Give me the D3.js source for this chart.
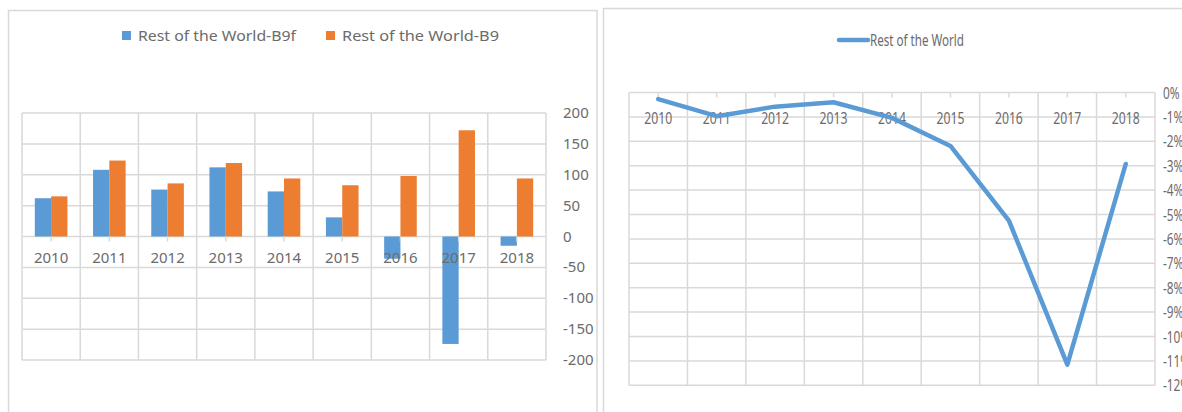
<!DOCTYPE html>
<html><head><meta charset="utf-8">
<script src="https://cdn.jsdelivr.net/npm/d3@7"></script>
<style>html,body{margin:0;padding:0;background:#fff;overflow:hidden}svg{display:block}</style>
</head><body>
<svg id="c" width="1182" height="412"></svg>
<script>
const years = ["2010","2011","2012","2013","2014","2015","2016","2017","2018"];
const seriesB9f = [62, 108, 76, 112, 73, 31, -36, -174, -15];
const seriesB9 = [65, 123, 86, 119, 94, 83, 98, 172, 94];
const seriesRow = [-0.27, -0.97, -0.58, -0.40, -1.04, -2.19, -5.25, -11.15, -2.93];
const leftTicks = [200,150,100,50,0,-50,-100,-150,-200];
const rightTicks = [0,-1,-2,-3,-4,-5,-6,-7,-8,-9,-10,-11,-12];
const legendLeft = ["Rest of the World-B9f","Rest of the World-B9"];
const legendRight = "Rest of the World";

const BLUE="#5b9bd5", ORANGE="#ed7d31", GRID="#d9d9d9", TXT="#6b6b6b";
const svg = d3.select("#c");
const FONT = "'Noto Sans', 'Open Sans', sans-serif";

// chart frames
svg.append("rect").attr("x",8.5).attr("y",10.5).attr("width",588.5).attr("height",420)
  .attr("fill","none").attr("stroke",GRID).attr("stroke-width",1.5);
svg.append("rect").attr("x",603.5).attr("y",8.5).attr("width",600).attr("height",420)
  .attr("fill","none").attr("stroke",GRID).attr("stroke-width",1.5);

// ---------- LEFT: bar chart ----------
const x1 = d3.scaleBand().domain(years).range([22,546]).paddingInner(0).paddingOuter(0);
const y1 = d3.scaleLinear().domain([-200,200]).range([360,113]);
const gL = svg.append("g");
// horizontal grid
gL.selectAll("line.h").data(leftTicks).join("line")
  .attr("x1",x1.range()[0]).attr("x2",x1.range()[1])
  .attr("y1",d=>y1(d)).attr("y2",d=>y1(d))
  .attr("stroke",GRID).attr("stroke-width",1.5);
// vertical grid at band edges
const edges1 = years.map(d=>x1(d)).concat([x1.range()[1]]);
gL.selectAll("line.v").data(edges1).join("line")
  .attr("x1",d=>d).attr("x2",d=>d).attr("y1",y1(200)).attr("y2",y1(-200))
  .attr("stroke",GRID).attr("stroke-width",1.5);
// bars
const bw = 16.3;
gL.selectAll("rect.b9f").data(seriesB9f).join("rect")
  .attr("x",(d,i)=>x1(years[i])+x1.bandwidth()/2-bw)
  .attr("y",d=>Math.min(y1(d),y1(0))).attr("width",bw)
  .attr("height",d=>Math.abs(y1(d)-y1(0))).attr("fill",BLUE);
gL.selectAll("rect.b9").data(seriesB9).join("rect")
  .attr("x",(d,i)=>x1(years[i])+x1.bandwidth()/2)
  .attr("y",d=>Math.min(y1(d),y1(0))).attr("width",bw)
  .attr("height",d=>Math.abs(y1(d)-y1(0))).attr("fill",ORANGE);
// ticks at band centres
gL.selectAll("line.t").data(years).join("line")
  .attr("x1",d=>x1(d)+x1.bandwidth()/2).attr("x2",d=>x1(d)+x1.bandwidth()/2)
  .attr("y1",y1(0)).attr("y2",y1(0)+5).attr("stroke",GRID).attr("stroke-width",1.5);
// category labels
gL.selectAll("text.cat").data(years).join("text")
  .attr("x",d=>x1(d)+x1.bandwidth()/2).attr("y",y1(0)+26)
  .attr("text-anchor","middle").attr("font-family",FONT).attr("font-size",15)
  .attr("fill",TXT).text(d=>d);
// value axis labels
gL.selectAll("text.val").data(leftTicks).join("text")
  .attr("x",563).attr("y",d=>y1(d)+5)
  .attr("font-family",FONT).attr("font-size",15).attr("fill",TXT).text(d=>d);
// legend
const legL = svg.append("g");
[[122,BLUE,legendLeft[0],158],[326,ORANGE,legendLeft[1],157]].forEach(([x,c,t,w])=>{
  legL.append("rect").attr("x",x).attr("y",31).attr("width",9).attr("height",9).attr("fill",c);
  legL.append("text").attr("x",x+16).attr("y",41).attr("font-family",FONT).attr("font-size",14)
    .attr("fill",TXT).attr("textLength",w).attr("lengthAdjust","spacingAndGlyphs").text(t);
});

// ---------- RIGHT: line chart ----------
const x2 = d3.scaleBand().domain(years).range([629,1155]);
const y2 = d3.scaleLinear().domain([-12,0]).range([385.3,92.5]);
const gR = svg.append("g");
gR.selectAll("line.h").data(rightTicks).join("line")
  .attr("x1",x2.range()[0]).attr("x2",x2.range()[1])
  .attr("y1",d=>y2(d)).attr("y2",d=>y2(d))
  .attr("stroke",GRID).attr("stroke-width",1.5);
const edges2 = years.map(d=>x2(d)).concat([x2.range()[1]]);
gR.selectAll("line.v").data(edges2).join("line")
  .attr("x1",d=>d).attr("x2",d=>d).attr("y1",y2(0)).attr("y2",y2(-12))
  .attr("stroke",GRID).attr("stroke-width",1.5);
gR.selectAll("line.t").data(years).join("line")
  .attr("x1",d=>x2(d)+x2.bandwidth()/2).attr("x2",d=>x2(d)+x2.bandwidth()/2)
  .attr("y1",y2(0)).attr("y2",y2(0)+5).attr("stroke",GRID).attr("stroke-width",1.5);
const cond = 0.74;
function condense(sel){
  sel.each(function(){
    const w = this.getComputedTextLength();
    d3.select(this).attr("textLength",w*cond).attr("lengthAdjust","spacingAndGlyphs");
  });
}
gR.selectAll("text.cat").data(years).join("text")
  .attr("x",d=>x2(d)+x2.bandwidth()/2).attr("y",y2(0)+31)
  .attr("text-anchor","middle").attr("font-family",FONT).attr("font-size",16.5)
  .attr("fill",TXT).text(d=>d).call(condense);
gR.selectAll("text.val").data(rightTicks).join("text")
  .attr("x",1163).attr("y",d=>y2(d)+6)
  .attr("font-family",FONT).attr("font-size",16)
  .attr("fill",TXT).text(d=>d+"%").call(condense);
const line = d3.line().x((d,i)=>x2(years[i])+x2.bandwidth()/2).y(d=>y2(d));
gR.append("path").datum(seriesRow).attr("d",line)
  .attr("fill","none").attr("stroke",BLUE).attr("stroke-width",4.5)
  .attr("stroke-linejoin","round").attr("stroke-linecap","round");
// legend
svg.append("line").attr("x1",839).attr("x2",868).attr("y1",40).attr("y2",40)
  .attr("stroke",BLUE).attr("stroke-width",4.5).attr("stroke-linecap","round");
svg.append("text").attr("x",870).attr("y",46).attr("font-family",FONT).attr("font-size",16)
  .attr("fill",TXT).attr("textLength",94).attr("lengthAdjust","spacingAndGlyphs").text(legendRight);
</script>
</body></html>
